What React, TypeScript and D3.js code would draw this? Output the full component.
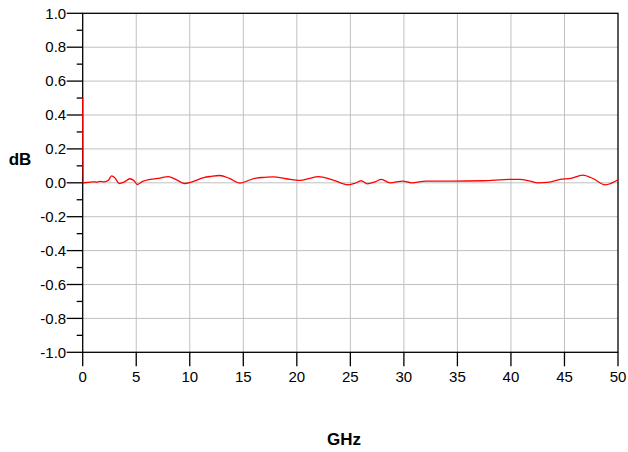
import React, { useEffect, useRef } from 'react';
import * as d3 from 'd3';

const freqGHz = [0, 0.02, 0.5, 1.0, 1.3, 1.6, 2.0, 2.4, 2.7, 3.0, 3.4, 3.9, 4.4, 4.8, 5.1, 5.6, 6.3, 7.2, 8.0, 8.7, 9.5, 10.2, 11.3, 12.0, 12.8, 13.7, 14.7, 15.4, 16.2, 17.0, 17.8, 19.0, 20.3, 21.2, 22.0, 23.4, 24.8, 25.4, 26.0, 26.6, 27.3, 27.9, 28.7, 29.9, 30.7, 32.1, 34.5, 37.4, 39.9, 40.8, 41.8, 42.5, 43.6, 44.6, 45.6, 46.7, 47.7, 48.8, 50];
const lossDb = [0.5, 0.0, 0.003, 0.006, 0.004, 0.008, 0.006, 0.015, 0.041, 0.03, -0.004, 0.006, 0.024, 0.012, -0.01, 0.008, 0.02, 0.028, 0.037, 0.02, -0.004, 0.005, 0.031, 0.038, 0.043, 0.026, -0.002, 0.012, 0.028, 0.032, 0.035, 0.024, 0.014, 0.026, 0.037, 0.016, -0.012, -0.004, 0.012, -0.006, 0.006, 0.02, 0.0, 0.01, 0.0, 0.01, 0.01, 0.012, 0.02, 0.02, 0.01, 0.0, 0.004, 0.02, 0.026, 0.045, 0.024, -0.012, 0.018];

const xTicks = [0, 5, 10, 15, 20, 25, 30, 35, 40, 45, 50];
const yTicks = [-1.0, -0.8, -0.6, -0.4, -0.2, 0.0, 0.2, 0.4, 0.6, 0.8, 1.0];
const yMinorTicks = [-0.9, -0.7, -0.5, -0.3, -0.1, 0.1, 0.3, 0.5, 0.7, 0.9];

const W = 628;
const H = 452;

export default function App() {
  const svgRef = useRef<SVGSVGElement>(null);

  useEffect(() => {
    if (!svgRef.current) return;
    const svg = d3.select(svgRef.current);
    svg.selectAll('*').remove();

    const left = 82.7, right = 618, top = 13.3, bottom = 352.3;
    const font = '"Liberation Sans", Arial, sans-serif';

    const x = d3.scaleLinear().domain([0, 50]).range([left, right]);
    const y = d3.scaleLinear().domain([-1, 1]).range([bottom, top]);

    // grid
    svg.append('g')
      .selectAll('line')
      .data(xTicks.slice(1, -1))
      .join('line')
      .attr('x1', d => x(d)).attr('x2', d => x(d))
      .attr('y1', top).attr('y2', bottom)
      .attr('stroke', '#c0c0c0').attr('stroke-width', 1);

    svg.append('g')
      .selectAll('line')
      .data(yTicks.slice(1, -1))
      .join('line')
      .attr('x1', left).attr('x2', right)
      .attr('y1', d => y(d)).attr('y2', d => y(d))
      .attr('stroke', '#c0c0c0').attr('stroke-width', 1);

    // frame
    svg.append('rect')
      .attr('x', left).attr('y', top)
      .attr('width', right - left).attr('height', bottom - top)
      .attr('fill', 'none').attr('stroke', '#000').attr('stroke-width', 1.3);

    // left axis
    const yAxis = svg.append('g').attr('transform', `translate(${left},0)`);
    yAxis.selectAll('line.major')
      .data(yTicks)
      .join('line')
      .attr('class', 'major')
      .attr('x1', -16).attr('x2', 0)
      .attr('y1', d => y(d)).attr('y2', d => y(d))
      .attr('stroke', '#000').attr('stroke-width', 1.3);
    yAxis.selectAll('line.minor')
      .data(yMinorTicks)
      .join('line')
      .attr('class', 'minor')
      .attr('x1', -6).attr('x2', 0)
      .attr('y1', d => y(d)).attr('y2', d => y(d))
      .attr('stroke', '#000').attr('stroke-width', 1.3);
    yAxis.selectAll('text')
      .data(yTicks)
      .join('text')
      .attr('x', -16.5)
      .attr('y', d => y(d))
      .attr('dy', '0.35em')
      .attr('text-anchor', 'end')
      .attr('font-family', font)
      .attr('font-size', 15)
      .attr('fill', '#000')
      .text(d => d.toFixed(1));

    // bottom axis
    const xAxis = svg.append('g').attr('transform', `translate(0,${bottom})`);
    xAxis.selectAll('line')
      .data(xTicks)
      .join('line')
      .attr('x1', d => x(d)).attr('x2', d => x(d))
      .attr('y1', 0).attr('y2', 14)
      .attr('stroke', '#000').attr('stroke-width', 1.3);
    xAxis.selectAll('text')
      .data(xTicks)
      .join('text')
      .attr('x', d => x(d))
      .attr('y', 30.2)
      .attr('text-anchor', 'middle')
      .attr('font-family', font)
      .attr('font-size', 15)
      .attr('fill', '#000')
      .text(d => String(d));

    // axis titles
    svg.append('text')
      .attr('x', 344).attr('y', 444.5)
      .attr('text-anchor', 'middle')
      .attr('font-family', font)
      .attr('font-size', 17)
      .attr('font-weight', 'bold')
      .text('GHz');

    svg.append('text')
      .attr('x', 20).attr('y', 165)
      .attr('text-anchor', 'middle')
      .attr('font-family', font)
      .attr('font-size', 17)
      .attr('font-weight', 'bold')
      .text('dB');

    // trace
    const pts = freqGHz.map((f, i) => [f, lossDb[i]] as [number, number]);
    const line = d3.line<[number, number]>()
      .x(d => x(d[0]))
      .y(d => y(d[1]))
      .curve(d3.curveMonotoneX);

    svg.append('path')
      .datum(pts)
      .attr('fill', 'none')
      .attr('stroke', '#ff0000')
      .attr('stroke-width', 1.3)
      .attr('d', line);
  }, []);

  return (
    <div style={{ position: 'absolute', left: 0, top: 0 }}>
      <svg ref={svgRef} width={W} height={H} style={{ display: 'block', background: '#fff' }} />
    </div>
  );
}
